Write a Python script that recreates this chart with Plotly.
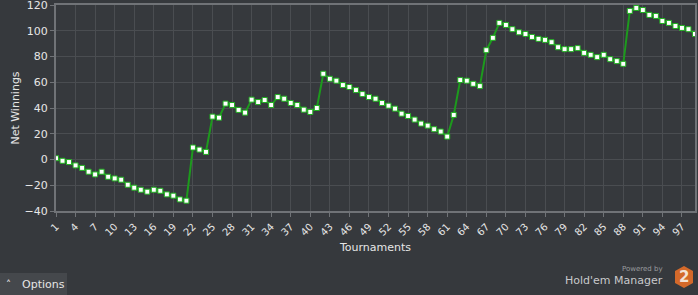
import plotly.graph_objects as go

tournaments = list(range(1, 100))
net_winnings = [
    1, -1, -2, -4.6, -6.5, -9.5, -11.6, -9.5, -13.4, -14.7,
    -15.7, -19.6, -21.9, -23.5, -25, -23.5, -24.3, -27.1, -28.1, -31,
    -32, 9.3, 7.7, 5.9, 33.3, 32.5, 43.4, 42.3, 38.5, 36.4,
    46.5, 44.6, 46.2, 42.3, 48.5, 47.2, 43.9, 42.3, 38.7, 36.9,
    40, 66.6, 62.7, 61.2, 57.8, 56.3, 53.9, 50.8, 48.5, 47.2,
    43.9, 41.8, 39.5, 35.6, 33.8, 31, 27.9, 26.3, 23.5, 21.7,
    17.8, 34.6, 61.7, 61.2, 58.8, 57, 84.9, 94.5, 106.1, 104.5,
    101.2, 98.8, 97.5, 95.2, 93.7, 92.9, 91.1, 87.2, 85.7, 85.7,
    86.5, 82.8, 81.3, 79.5, 81.3, 77.9, 76.4, 74.3, 115.4, 117.7,
    116.1, 112.3, 111.5, 107.6, 106.1, 103.7, 102.2, 101.2, 97.5,
]
x_tick_values = list(range(1, 100, 3))
y_tick_values = [-40, -20, 0, 20, 40, 60, 80, 100, 120]

BG = "#36393d"
GRID = "#4a4d51"
AXIS = "#707377"
TEXT = "#e6e6e6"
FONT = "DejaVu Sans"

W, H = 698, 295
L, R, T, B = 56, 3, 5, 84
PW, PH = W - L - R, H - T - B


def px(x):
    return (x - L) / PW


def py(y):
    return (H - B - y) / PH


fig = go.Figure()
fig.add_trace(go.Scatter(
    x=tournaments, y=net_winnings, mode="lines+markers",
    line=dict(color="#1d9a1d", width=2),
    marker=dict(symbol="square", size=5, color="white",
                line=dict(color="#1fb01f", width=1)),
    showlegend=False,
))

fig.update_layout(
    width=W, height=H,
    margin=dict(l=L, r=R, t=T, b=B, autoexpand=False),
    paper_bgcolor=BG, plot_bgcolor=BG,
    font=dict(family=FONT, size=11, color=TEXT),
    xaxis=dict(
        range=[1, 99], tickvals=x_tick_values, tickangle=-45,
        showgrid=True, gridcolor=GRID, gridwidth=1,
        showline=True, linecolor=AXIS, linewidth=2, mirror=True,
        ticks="outside", ticklen=4, tickcolor=AXIS,
        tickfont=dict(size=10, color=TEXT), ticklabeloverflow="allow",
        zeroline=False, automargin=False,
        title=dict(text="Tournaments", standoff=6, font=dict(size=11, color=TEXT)),
    ),
    yaxis=dict(
        range=[-40, 120], tickvals=y_tick_values,
        showgrid=True, gridcolor=GRID, gridwidth=1,
        showline=True, linecolor=AXIS, linewidth=2, mirror=True,
        ticks="outside", ticklen=4, tickcolor=AXIS,
        tickfont=dict(size=11, color=TEXT), ticklabeloverflow="allow",
        zeroline=False, automargin=False,
        title=dict(text="Net Winnings", standoff=3, font=dict(size=11, color=TEXT)),
    ),
)

# Options button (bottom left)
fig.add_shape(type="rect", xref="paper", yref="paper",
              x0=px(0), x1=px(67), y0=py(273), y1=py(296),
              fillcolor="#45484c", line=dict(width=0), layer="below")
fig.add_annotation(xref="paper", yref="paper", x=px(8), y=py(284),
                   text="˄", showarrow=False, xanchor="center", yanchor="middle",
                   font=dict(size=10, color=TEXT))
fig.add_annotation(xref="paper", yref="paper", x=px(20), y=py(284),
                   text="Options", showarrow=False, xanchor="left", yanchor="middle",
                   font=dict(size=11, color=TEXT))

# Powered by Hold'em Manager (bottom right)
fig.add_annotation(xref="paper", yref="paper", x=px(665), y=py(269),
                   text="Powered by", showarrow=False, xanchor="right", yanchor="middle",
                   font=dict(size=7, color="#9a9c9f"))
fig.add_annotation(xref="paper", yref="paper", x=px(665), y=py(280),
                   text="Hold'em Manager", showarrow=False, xanchor="right", yanchor="middle",
                   font=dict(size=11, color="#c8c9cb"))
cx, cy = 684, 277
hex_pts = [(cx, cy - 11), (cx + 9, cy - 6), (cx + 9, cy + 6), (cx, cy + 11),
           (cx - 9, cy + 6), (cx - 9, cy - 6)]
path = "M " + " L ".join(f"{px(a):.5f},{py(b):.5f}" for a, b in hex_pts) + " Z"
fig.add_shape(type="path", xref="paper", yref="paper", path=path,
              fillcolor="#d4692a", line=dict(width=0))
fig.add_annotation(xref="paper", yref="paper", x=px(cx), y=py(cy),
                   text="<b>2</b>", showarrow=False, xanchor="center", yanchor="middle",
                   font=dict(size=15, color="#f3e3d6"))

fig.write_html("out.html")
